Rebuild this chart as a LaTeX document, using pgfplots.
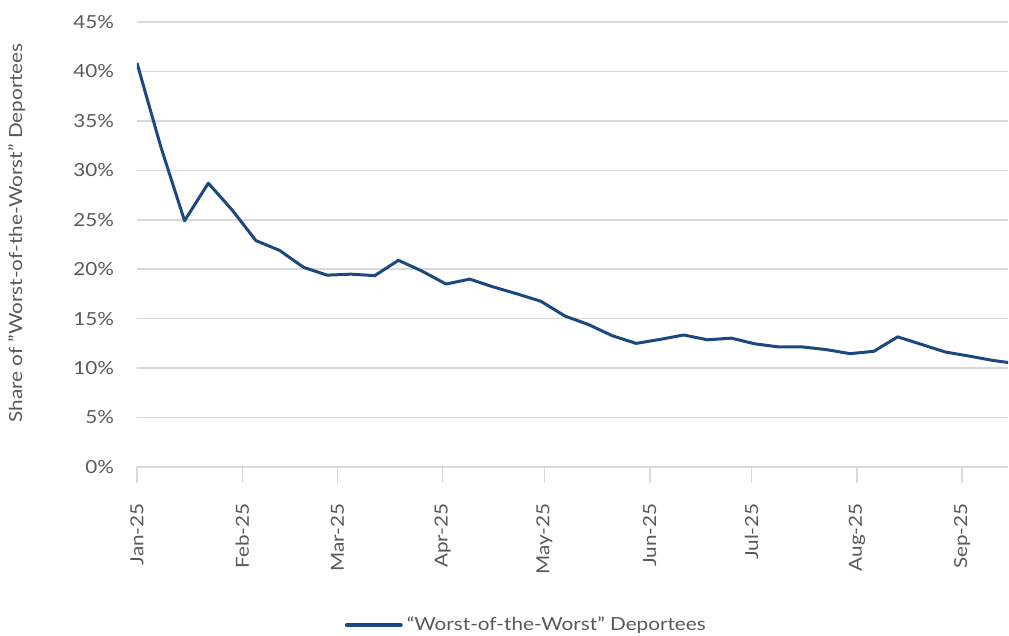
\documentclass[border=0pt]{standalone}
\usepackage{fontspec}
\setmainfont{Lato}[FakeStretch=1.15]
\usepackage{pgfplots}
\pgfplotsset{compat=1.18}
\definecolor{linecol}{RGB}{27,73,126}
\definecolor{txtgray}{RGB}{89,89,89}
\definecolor{gridgray}{RGB}{217,217,217}
\begin{document}
\begin{tikzpicture}
\begin{axis}[
  at={(0,0)}, anchor=south west,
  scale only axis,
  width=435.5pt, height=222.5pt,
  font=\fontsize{9}{11}\selectfont,
  xmin=0, xmax=256.5,
  ymin=0, ymax=45,
  ytick={0,5,...,45},
  yticklabel={\pgfmathprintnumber{\tick}\%},
  /pgf/number format/assume math mode=true,
  xtick={0,31,59,90,120,151,181,212,243},
  xticklabels={Jan-25,Feb-25,Mar-25,Apr-25,May-25,Jun-25,Jul-25,Aug-25,Sep-25},
  xtick pos=bottom,
  tick align=outside,
  major tick length=8pt,
  x tick style={gridgray, line width=0.75pt},
  y tick style={draw=none},
  axis line style={draw=none},
  ymajorgrids,
  grid style={gridgray, line width=0.75pt},
  tick label style={txtgray},
  yticklabel style={anchor=east, xshift=0pt},
  xticklabel style={rotate=90, anchor=east, inner sep=0pt, xshift=-10pt},
  ylabel={Share of "Worst-of-the-Worst" Deportees},
  ylabel style={txtgray, at={(axis description cs:-0.138,0.526)}, anchor=center},
  legend style={draw=none, fill=none, at={(axis description cs:0.448,-0.355)}, anchor=center, font=\fontsize{9}{11}\selectfont\color{txtgray}},
  legend image code/.code={\draw[#1, line width=2pt, line cap=round] (0pt,0pt) -- (27pt,0pt);},
]
\addplot[linecol, line width=1.5pt, line join=round] coordinates {
  (0,40.85) (7,32.4) (14,24.9) (21,28.7) (28,26.0) (35,22.9) (42,21.9)
  (49,20.2) (56,19.4) (63,19.5) (70,19.35) (77,20.9) (84,19.8) (91,18.5)
  (98,19.0) (105,18.2) (112,17.5) (119,16.75) (126,15.27) (133,14.4)
  (140,13.27) (147,12.5) (154,12.9) (161,13.35) (168,12.86) (175,13.03)
  (182,12.45) (189,12.14) (196,12.14) (203,11.87) (210,11.46) (217,11.7)
  (224,13.16) (231,12.4) (238,11.63) (245,11.22) (252,10.78) (259,10.45)
};
\addlegendentry{“Worst-of-the-Worst” Deportees}
\end{axis}
\pgfresetboundingbox
\useasboundingbox (-68.5pt,-84.5pt) rectangle (436pt,233.5pt);
\end{tikzpicture}
\end{document}
